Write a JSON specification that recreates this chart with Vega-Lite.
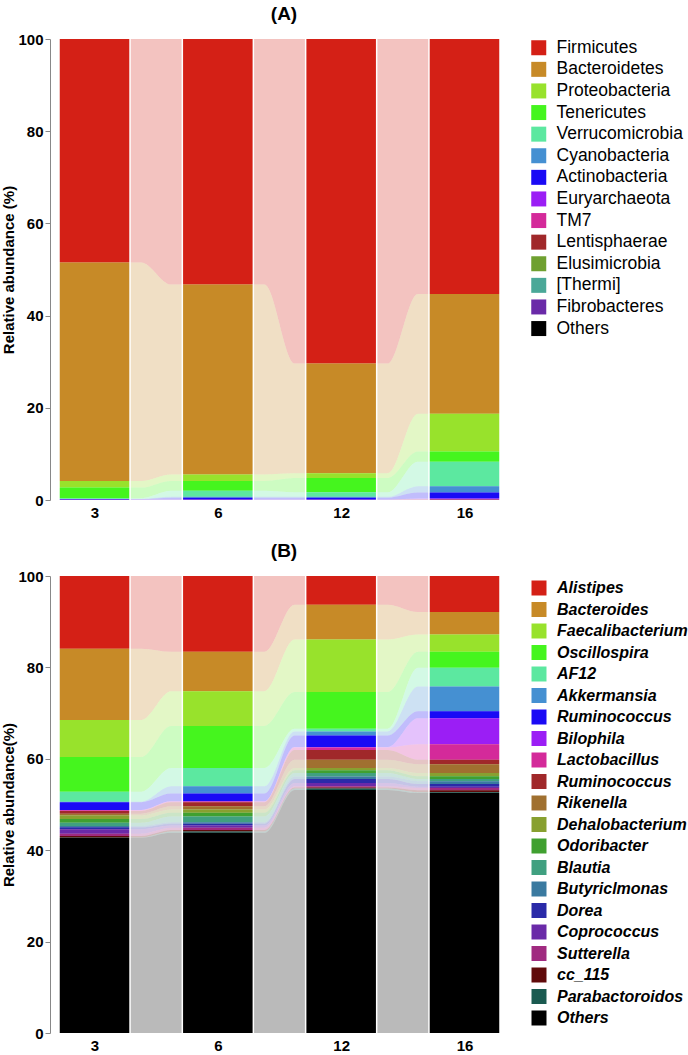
{
  "$schema": "https://vega.github.io/schema/vega-lite/v6.json",
  "padding": {"left": 1, "top": 5, "right": 0, "bottom": 0},
  "autosize": {"type": "pad"},
  "config": {
    "font": "Liberation Sans",
    "view": {"stroke": null},
    "axis": {"grid": false},
    "title": {"fontSize": 19, "fontWeight": "bold", "font": "Liberation Sans", "color": "#000"}
  },
  "spacing": 22,
  "resolve": {"scale": {"color": "independent"}, "legend": {"color": "independent"}},
  "datasets": {
    "phylum": [
      {"week": "3", "taxon": "Firmicutes", "value": 48.46},
      {"week": "3", "taxon": "Bacteroidetes", "value": 47.4},
      {"week": "3", "taxon": "Proteobacteria", "value": 1.45},
      {"week": "3", "taxon": "Tenericutes", "value": 2.3},
      {"week": "3", "taxon": "Verrucomicrobia", "value": 0.15},
      {"week": "3", "taxon": "Cyanobacteria", "value": 0.05},
      {"week": "3", "taxon": "Actinobacteria", "value": 0.1},
      {"week": "3", "taxon": "Euryarchaeota", "value": 0.02},
      {"week": "3", "taxon": "TM7", "value": 0.01},
      {"week": "3", "taxon": "Lentisphaerae", "value": 0.01},
      {"week": "3", "taxon": "Elusimicrobia", "value": 0.01},
      {"week": "3", "taxon": "[Thermi]", "value": 0.01},
      {"week": "3", "taxon": "Fibrobacteres", "value": 0.01},
      {"week": "3", "taxon": "Others", "value": 0.02},
      {"week": "6", "taxon": "Firmicutes", "value": 53.26},
      {"week": "6", "taxon": "Bacteroidetes", "value": 41.2},
      {"week": "6", "taxon": "Proteobacteria", "value": 1.4},
      {"week": "6", "taxon": "Tenericutes", "value": 2.15},
      {"week": "6", "taxon": "Verrucomicrobia", "value": 1.3},
      {"week": "6", "taxon": "Cyanobacteria", "value": 0.2},
      {"week": "6", "taxon": "Actinobacteria", "value": 0.4},
      {"week": "6", "taxon": "Euryarchaeota", "value": 0.02},
      {"week": "6", "taxon": "TM7", "value": 0.01},
      {"week": "6", "taxon": "Lentisphaerae", "value": 0.01},
      {"week": "6", "taxon": "Elusimicrobia", "value": 0.01},
      {"week": "6", "taxon": "[Thermi]", "value": 0.01},
      {"week": "6", "taxon": "Fibrobacteres", "value": 0.01},
      {"week": "6", "taxon": "Others", "value": 0.02},
      {"week": "12", "taxon": "Firmicutes", "value": 70.41},
      {"week": "12", "taxon": "Bacteroidetes", "value": 23.8},
      {"week": "12", "taxon": "Proteobacteria", "value": 1.0},
      {"week": "12", "taxon": "Tenericutes", "value": 3.1},
      {"week": "12", "taxon": "Verrucomicrobia", "value": 1.0},
      {"week": "12", "taxon": "Cyanobacteria", "value": 0.2},
      {"week": "12", "taxon": "Actinobacteria", "value": 0.4},
      {"week": "12", "taxon": "Euryarchaeota", "value": 0.02},
      {"week": "12", "taxon": "TM7", "value": 0.01},
      {"week": "12", "taxon": "Lentisphaerae", "value": 0.01},
      {"week": "12", "taxon": "Elusimicrobia", "value": 0.01},
      {"week": "12", "taxon": "[Thermi]", "value": 0.01},
      {"week": "12", "taxon": "Fibrobacteres", "value": 0.01},
      {"week": "12", "taxon": "Others", "value": 0.02},
      {"week": "16", "taxon": "Firmicutes", "value": 55.3},
      {"week": "16", "taxon": "Bacteroidetes", "value": 26.0},
      {"week": "16", "taxon": "Proteobacteria", "value": 8.2},
      {"week": "16", "taxon": "Tenericutes", "value": 2.2},
      {"week": "16", "taxon": "Verrucomicrobia", "value": 5.3},
      {"week": "16", "taxon": "Cyanobacteria", "value": 1.4},
      {"week": "16", "taxon": "Actinobacteria", "value": 1.3},
      {"week": "16", "taxon": "Euryarchaeota", "value": 0.1},
      {"week": "16", "taxon": "TM7", "value": 0.1},
      {"week": "16", "taxon": "Lentisphaerae", "value": 0.02},
      {"week": "16", "taxon": "Elusimicrobia", "value": 0.02},
      {"week": "16", "taxon": "[Thermi]", "value": 0.02},
      {"week": "16", "taxon": "Fibrobacteres", "value": 0.02},
      {"week": "16", "taxon": "Others", "value": 0.02}
    ],
    "genus": [
      {"week": "3", "taxon": "Alistipes", "value": 15.9},
      {"week": "3", "taxon": "Bacteroides", "value": 15.6},
      {"week": "3", "taxon": "Faecalibacterium", "value": 8.1},
      {"week": "3", "taxon": "Oscillospira", "value": 7.6},
      {"week": "3", "taxon": "AF12", "value": 2.2},
      {"week": "3", "taxon": "Akkermansia", "value": 0.1},
      {"week": "3", "taxon": "Ruminococcus", "value": 1.7},
      {"week": "3", "taxon": "Bilophila", "value": 0.05},
      {"week": "3", "taxon": "Lactobacillus", "value": 0.15},
      {"week": "3", "taxon": "Ruminococcus ", "value": 0.6},
      {"week": "3", "taxon": "Rikenella", "value": 0.4},
      {"week": "3", "taxon": "Dehalobacterium", "value": 0.8},
      {"week": "3", "taxon": "Odoribacter", "value": 0.8},
      {"week": "3", "taxon": "Blautia", "value": 0.7},
      {"week": "3", "taxon": "Butyriclmonas", "value": 0.3},
      {"week": "3", "taxon": "Dorea", "value": 0.4},
      {"week": "3", "taxon": "Coprococcus", "value": 1.0},
      {"week": "3", "taxon": "Sutterella", "value": 0.5},
      {"week": "3", "taxon": "cc_115", "value": 0.3},
      {"week": "3", "taxon": "Parabactoroidos", "value": 0.1},
      {"week": "3", "taxon": "Others", "value": 42.7},
      {"week": "6", "taxon": "Alistipes", "value": 16.6},
      {"week": "6", "taxon": "Bacteroides", "value": 8.6},
      {"week": "6", "taxon": "Faecalibacterium", "value": 7.6},
      {"week": "6", "taxon": "Oscillospira", "value": 9.2},
      {"week": "6", "taxon": "AF12", "value": 4.0},
      {"week": "6", "taxon": "Akkermansia", "value": 1.6},
      {"week": "6", "taxon": "Ruminococcus", "value": 1.7},
      {"week": "6", "taxon": "Bilophila", "value": 0.05},
      {"week": "6", "taxon": "Lactobacillus", "value": 0.15},
      {"week": "6", "taxon": "Ruminococcus ", "value": 0.9},
      {"week": "6", "taxon": "Rikenella", "value": 0.7},
      {"week": "6", "taxon": "Dehalobacterium", "value": 0.7},
      {"week": "6", "taxon": "Odoribacter", "value": 0.8},
      {"week": "6", "taxon": "Blautia", "value": 1.3},
      {"week": "6", "taxon": "Butyriclmonas", "value": 0.3},
      {"week": "6", "taxon": "Dorea", "value": 0.4},
      {"week": "6", "taxon": "Coprococcus", "value": 0.5},
      {"week": "6", "taxon": "Sutterella", "value": 0.5},
      {"week": "6", "taxon": "cc_115", "value": 0.3},
      {"week": "6", "taxon": "Parabactoroidos", "value": 0.3},
      {"week": "6", "taxon": "Others", "value": 43.8},
      {"week": "12", "taxon": "Alistipes", "value": 6.3},
      {"week": "12", "taxon": "Bacteroides", "value": 7.6},
      {"week": "12", "taxon": "Faecalibacterium", "value": 11.5},
      {"week": "12", "taxon": "Oscillospira", "value": 8.0},
      {"week": "12", "taxon": "AF12", "value": 0.6},
      {"week": "12", "taxon": "Akkermansia", "value": 0.9},
      {"week": "12", "taxon": "Ruminococcus", "value": 2.5},
      {"week": "12", "taxon": "Bilophila", "value": 0.1},
      {"week": "12", "taxon": "Lactobacillus", "value": 0.6},
      {"week": "12", "taxon": "Ruminococcus ", "value": 2.1},
      {"week": "12", "taxon": "Rikenella", "value": 1.8},
      {"week": "12", "taxon": "Dehalobacterium", "value": 0.5},
      {"week": "12", "taxon": "Odoribacter", "value": 0.6},
      {"week": "12", "taxon": "Blautia", "value": 0.8},
      {"week": "12", "taxon": "Butyriclmonas", "value": 0.5},
      {"week": "12", "taxon": "Dorea", "value": 0.9},
      {"week": "12", "taxon": "Coprococcus", "value": 0.7},
      {"week": "12", "taxon": "Sutterella", "value": 0.3},
      {"week": "12", "taxon": "cc_115", "value": 0.2},
      {"week": "12", "taxon": "Parabactoroidos", "value": 0.3},
      {"week": "12", "taxon": "Others", "value": 53.2},
      {"week": "16", "taxon": "Alistipes", "value": 7.9},
      {"week": "16", "taxon": "Bacteroides", "value": 4.9},
      {"week": "16", "taxon": "Faecalibacterium", "value": 3.8},
      {"week": "16", "taxon": "Oscillospira", "value": 3.5},
      {"week": "16", "taxon": "AF12", "value": 4.1},
      {"week": "16", "taxon": "Akkermansia", "value": 5.4},
      {"week": "16", "taxon": "Ruminococcus", "value": 1.5},
      {"week": "16", "taxon": "Bilophila", "value": 5.7},
      {"week": "16", "taxon": "Lactobacillus", "value": 3.4},
      {"week": "16", "taxon": "Ruminococcus ", "value": 1.0},
      {"week": "16", "taxon": "Rikenella", "value": 1.9},
      {"week": "16", "taxon": "Dehalobacterium", "value": 0.7},
      {"week": "16", "taxon": "Odoribacter", "value": 0.6},
      {"week": "16", "taxon": "Blautia", "value": 0.5},
      {"week": "16", "taxon": "Butyriclmonas", "value": 0.6},
      {"week": "16", "taxon": "Dorea", "value": 0.6},
      {"week": "16", "taxon": "Coprococcus", "value": 0.3},
      {"week": "16", "taxon": "Sutterella", "value": 0.5},
      {"week": "16", "taxon": "cc_115", "value": 0.4},
      {"week": "16", "taxon": "Parabactoroidos", "value": 0.2},
      {"week": "16", "taxon": "Others", "value": 52.5}
    ]
  },
  "vconcat": [
    {
      "title": {"text": "(A)", "frame": "group", "dx": 9, "offset": 8},
      "width": 450,
      "height": 461,
      "data": {"name": "phylum"},
      "transform": [
        {"calculate": "indexof(['3','6','12','16'], datum.week)", "as": "i"},
        {"calculate": "indexof(['Firmicutes','Bacteroidetes','Proteobacteria','Tenericutes','Verrucomicrobia','Cyanobacteria','Actinobacteria','Euryarchaeota','TM7','Lentisphaerae','Elusimicrobia','[Thermi]','Fibrobacteres','Others'], datum.taxon)", "as": "rank"},
        {"stack": "value", "groupby": ["week"], "sort": [{"field": "rank", "order": "descending"}], "as": ["y0", "y1"]}
      ],
      "layer": [
        {
          "transform": [
            {"calculate": "max(-0.288, datum.i - 0.378)", "as": "l"},
            {"calculate": "min(3.288, datum.i + 0.378)", "as": "r"},
            {"fold": ["l", "r"], "as": ["side", "px"]}
          ],
          "mark": {"type": "area", "interpolate": "monotone", "opacity": 0.27},
          "encoding": {
            "x": {"field": "px", "type": "quantitative", "scale": {"domain": [-0.361, 3.288], "nice": false, "zero": false},
              "axis": {"values": [0, 1, 2, 3], "labelExpr": "['3','6','12','16'][datum.value]", "domain": false, "ticks": false, "grid": false, "title": null, "labelFontSize": 15, "labelFontWeight": "bold", "labelColor": "#000", "labelPadding": 5}},
            "y": {"field": "y1", "type": "quantitative", "scale": {"domain": [0, 100], "nice": false},
              "axis": {"values": [0, 20, 40, 60, 80, 100], "title": "Relative abundance (%)", "titleFontSize": 15, "titleFontWeight": "bold", "titleColor": "#000", "labelFontSize": 15, "labelFontWeight": "bold", "labelColor": "#000", "domainColor": "#888", "tickColor": "#888", "tickSize": 5, "labelPadding": 2, "titlePadding": 1}},
            "y2": {"field": "y0"},
            "color": {"field": "taxon", "type": "nominal",
              "scale": {"domain": ["Firmicutes","Bacteroidetes","Proteobacteria","Tenericutes","Verrucomicrobia","Cyanobacteria","Actinobacteria","Euryarchaeota","TM7","Lentisphaerae","Elusimicrobia","[Thermi]","Fibrobacteres","Others"],
                "range": ["#d42016","#c78a27","#98e22c","#45f51e","#5ce8a0","#4590d2","#1a0af5","#9b1ef5","#d42a9a","#a0282a","#6fa030","#4aa898","#6a2aa8","#000000"]},
              "legend": {"title": null, "orient": "right", "offset": 30, "symbolType": "square", "symbolSize": 225, "symbolOpacity": 1, "symbolStrokeWidth": 0, "labelFontSize": 17.5, "labelColor": "#000", "labelLimit": 0, "labelOffset": 9, "rowPadding": 2.6}}
          }
        },
        {
          "transform": [
            {"calculate": "datum.i - 0.288", "as": "bl"},
            {"calculate": "datum.i + 0.288", "as": "br"}
          ],
          "mark": {"type": "rect"},
          "encoding": {
            "x": {"field": "bl", "type": "quantitative"},
            "x2": {"field": "br"},
            "y": {"field": "y1", "type": "quantitative"},
            "y2": {"field": "y0"},
            "color": {"field": "taxon", "type": "nominal"}
          }
        },
        {
          "transform": [
            {"filter": "datum.taxon === 'Others'"},
            {"calculate": "datum.i - 0.288", "as": "bl"},
            {"calculate": "datum.i + 0.288", "as": "br"},
            {"fold": ["bl", "br"], "as": ["side", "px"]}
          ],
          "mark": {"type": "rule", "color": "#ffffff", "strokeWidth": 1.5},
          "encoding": {
            "x": {"field": "px", "type": "quantitative"},
            "y": {"datum": 0},
            "y2": {"datum": 100}
          }
        }
      ]
    },
    {
      "title": {"text": "(B)", "frame": "group", "dx": 9, "offset": 8},
      "width": 450,
      "height": 457,
      "data": {"name": "genus"},
      "transform": [
        {"calculate": "indexof(['3','6','12','16'], datum.week)", "as": "i"},
        {"calculate": "indexof(['Alistipes','Bacteroides','Faecalibacterium','Oscillospira','AF12','Akkermansia','Ruminococcus','Bilophila','Lactobacillus','Ruminococcus ','Rikenella','Dehalobacterium','Odoribacter','Blautia','Butyriclmonas','Dorea','Coprococcus','Sutterella','cc_115','Parabactoroidos','Others'], datum.taxon)", "as": "rank"},
        {"stack": "value", "groupby": ["week"], "sort": [{"field": "rank", "order": "descending"}], "as": ["y0", "y1"]}
      ],
      "layer": [
        {
          "transform": [
            {"calculate": "max(-0.288, datum.i - 0.378)", "as": "l"},
            {"calculate": "min(3.288, datum.i + 0.378)", "as": "r"},
            {"fold": ["l", "r"], "as": ["side", "px"]}
          ],
          "mark": {"type": "area", "interpolate": "monotone", "opacity": 0.27},
          "encoding": {
            "x": {"field": "px", "type": "quantitative", "scale": {"domain": [-0.361, 3.288], "nice": false, "zero": false},
              "axis": {"values": [0, 1, 2, 3], "labelExpr": "['3','6','12','16'][datum.value]", "domain": false, "ticks": false, "grid": false, "title": null, "labelFontSize": 15, "labelFontWeight": "bold", "labelColor": "#000", "labelPadding": 5}},
            "y": {"field": "y1", "type": "quantitative", "scale": {"domain": [0, 100], "nice": false},
              "axis": {"values": [0, 20, 40, 60, 80, 100], "title": "Relative abundance(%)", "titleFontSize": 15, "titleFontWeight": "bold", "titleColor": "#000", "labelFontSize": 15, "labelFontWeight": "bold", "labelColor": "#000", "domainColor": "#888", "tickColor": "#888", "tickSize": 5, "labelPadding": 2, "titlePadding": 1}},
            "y2": {"field": "y0"},
            "color": {"field": "taxon", "type": "nominal",
              "scale": {"domain": ["Alistipes","Bacteroides","Faecalibacterium","Oscillospira","AF12","Akkermansia","Ruminococcus","Bilophila","Lactobacillus","Ruminococcus ","Rikenella","Dehalobacterium","Odoribacter","Blautia","Butyriclmonas","Dorea","Coprococcus","Sutterella","cc_115","Parabactoroidos","Others"],
                "range": ["#d42016","#c78a27","#98e22c","#45f51e","#5ce8a0","#4590d2","#1a0af5","#9b1ef5","#d42a9a","#a0282a","#a07030","#88a030","#40a030","#40a080","#3a7aa0","#2a2aa8","#6a2aa8","#a02a80","#600a0a","#1a5a50","#000000"]},
              "legend": {"title": null, "orient": "right", "offset": 27, "padding": 4, "symbolType": "square", "symbolSize": 225, "symbolOpacity": 1, "symbolStrokeWidth": 0, "labelFontSize": 16, "labelFontWeight": "bold", "labelFontStyle": "italic", "labelColor": "#000", "labelLimit": 0, "labelOffset": 10, "rowPadding": 5.5}}
          }
        },
        {
          "transform": [
            {"calculate": "datum.i - 0.288", "as": "bl"},
            {"calculate": "datum.i + 0.288", "as": "br"}
          ],
          "mark": {"type": "rect"},
          "encoding": {
            "x": {"field": "bl", "type": "quantitative"},
            "x2": {"field": "br"},
            "y": {"field": "y1", "type": "quantitative"},
            "y2": {"field": "y0"},
            "color": {"field": "taxon", "type": "nominal"}
          }
        },
        {
          "transform": [
            {"filter": "datum.taxon === 'Others'"},
            {"calculate": "datum.i - 0.288", "as": "bl"},
            {"calculate": "datum.i + 0.288", "as": "br"},
            {"fold": ["bl", "br"], "as": ["side", "px"]}
          ],
          "mark": {"type": "rule", "color": "#ffffff", "strokeWidth": 1.5},
          "encoding": {
            "x": {"field": "px", "type": "quantitative"},
            "y": {"datum": 0},
            "y2": {"datum": 100}
          }
        }
      ]
    }
  ]
}
